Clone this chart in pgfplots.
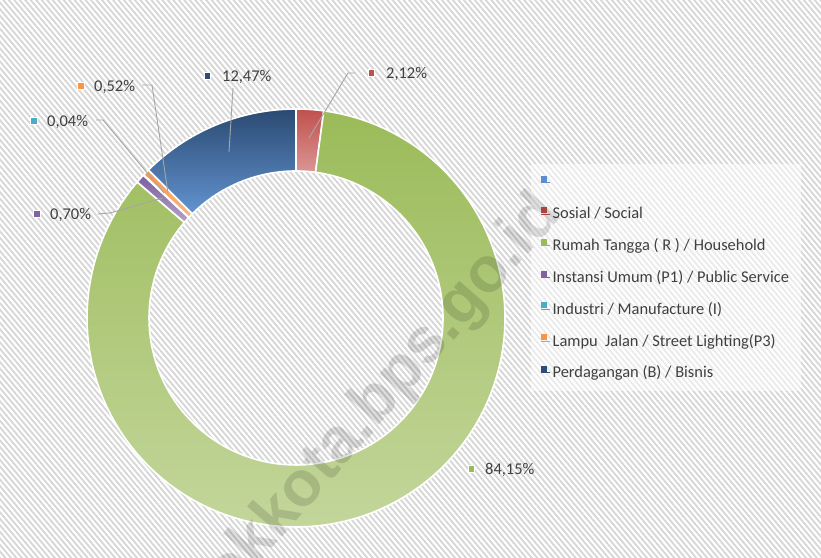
\documentclass[border=0pt]{standalone}
\usepackage{fontspec}
\setmainfont{Carlito}
\newfontfamily\wmfont{Liberation Sans}
\usepackage{pgfplots}
\pgfplotsset{compat=1.18}
\usetikzlibrary{patterns.meta}

\definecolor{txt}{HTML}{404040}
\definecolor{lead}{HTML}{A6A6A6}
\definecolor{redT}{HTML}{C0504D}
\definecolor{redB}{HTML}{DA9694}
\definecolor{grnT}{HTML}{9BBB59}
\definecolor{grnB}{HTML}{C3D69B}
\definecolor{bluT}{HTML}{2A4A72}
\definecolor{bluB}{HTML}{6393D0}
\definecolor{purT}{HTML}{7A5F9E}
\definecolor{purB}{HTML}{B3A2C7}
\definecolor{orgT}{HTML}{F79646}
\definecolor{orgB}{HTML}{FAB784}
\definecolor{cyaT}{HTML}{4BACC6}
\definecolor{cyaB}{HTML}{92CDDC}
\definecolor{lblue}{HTML}{5B8DD0}
\definecolor{dblue}{HTML}{2C4D75}
\definecolor{red}{HTML}{C0504D}
\definecolor{grn}{HTML}{9BBB59}
\definecolor{pur}{HTML}{8064A2}
\definecolor{cya}{HTML}{4BACC6}
\definecolor{org}{HTML}{F79646}

% ring segment: cumulative start (%), value (%), top colour, bottom colour
\newcommand{\ringseg}[4]{%
  \addplot[forget plot, draw=white, line width=1.6bp, line join=round,
    top color=#3, bottom color=#4, domain=0:4, samples=481, variable=\qq]
  ({296+ringr(\qq)*cos(ringa(\qq,#1,#2))},{240+ringr(\qq)*sin(ringa(\qq,#1,#2))});
}
% data label: square x, y, text x, colour, text
\newcommand{\dlabel}[5]{%
  \node[fill=#4, draw=white, line width=0.8bp, minimum size=6.5bp, inner sep=0] at (axis cs:#1,#2) {};
  \node[anchor=base west, inner sep=0, text=txt] at (axis cs:#3,#2-5.3) {#5};
}

\begin{document}
\begin{tikzpicture}[x=1bp,y=1bp]
\useasboundingbox (0,0) rectangle (821,558);
\fill[white] (0,0) rectangle (821,558);
\fill[pattern={Lines[angle=-50,distance=4.2bp,line width=1.8bp]}, pattern color=black!16] (0,0) rectangle (821,558);
\begin{axis}[
  at={(0,0)}, anchor=south west,
  width=821bp, height=558bp, scale only axis,
  xmin=0, xmax=821, ymin=0, ymax=558,
  hide axis, clip=false,
  font=\fontsize{16.5}{19}\selectfont,
  declare function={
    ringr(\qq)= \qq<=1 ? 209 : (\qq<=2 ? 209-62*(\qq-1) : (\qq<=3 ? 147 : 147+62*(\qq-3)));
    ringa(\qq,\pp,\vv)= 90-3.6*(\pp+\vv*(\qq<=1 ? \qq : (\qq<=2 ? 1 : (\qq<=3 ? 3-\qq : 0))));
  },
  legend image code/.code={\path (0bp,0bp) -- (9bp,0bp); \fill[#1, fill opacity=1, draw=none] (0bp,0.5bp) rectangle (6bp,6.5bp);},
  legend cell align=left,
  legend style={at={(axis cs:531,394)}, anchor=north west, draw=none,
    fill=white, fill opacity=0.5, text opacity=1, text=txt,
    inner xsep=10bp, inner ysep=10bp, row sep=14.3bp,
    font=\fontsize{16.5}{19}\selectfont},
]
% Sosial, Rumah Tangga, Instansi Umum, Industri, Lampu Jalan, Perdagangan
\ringseg{0}{2.12}{redT}{redB}
\ringseg{2.12}{84.15}{grnT}{grnB}
\ringseg{86.27}{0.70}{purT}{purB}
\ringseg{86.97}{0.04}{cyaT}{cyaB}
\ringseg{87.01}{0.52}{orgT}{orgB}
\ringseg{87.53}{12.47}{bluT}{bluB}

\addlegendimage{lblue}\addlegendentry{\vphantom{/}}
\addlegendimage{red}\addlegendentry{Sosial / Social}
\addlegendimage{grn}\addlegendentry{Rumah Tangga ( R ) / Household}
\addlegendimage{pur}\addlegendentry{Instansi Umum (P1) / Public Service}
\addlegendimage{cya}\addlegendentry{Industri / Manufacture (I)}
\addlegendimage{org}\addlegendentry{Lampu~ Jalan / Street Lighting(P3)}
\addlegendimage{dblue}\addlegendentry{Perdagangan (B) / Bisnis}

% leader lines
\draw[lead, line width=0.9bp] (axis cs:355,485) -- (axis cs:348,485) -- (axis cs:309,420);
\draw[lead, line width=0.9bp] (axis cs:233,470) -- (axis cs:229,406);
\draw[lead, line width=0.9bp] (axis cs:142,473) -- (axis cs:152,473) -- (axis cs:168,365);
\draw[lead, line width=0.9bp] (axis cs:96,438) -- (axis cs:103,438) -- (axis cs:164,365);
\draw[lead, line width=0.9bp] (axis cs:98,344) -- (axis cs:110,345) -- (axis cs:163,360);

\dlabel{207.5}{482}{222}{dblue}{12,47\%}
\dlabel{371.5}{485}{386}{red}{2,12\%}
\dlabel{81}{472}{94}{org}{0,52\%}
\dlabel{34}{437}{47}{cya}{0,04\%}
\dlabel{37}{344}{50}{pur}{0,70\%}
\dlabel{471.5}{89}{485}{grn}{84,15\%}
\end{axis}
\node[rotate=49, text=black, opacity=0.13, inner sep=0,
  font=\wmfont\bfseries\fontsize{64}{64}\selectfont] at (354,128) {solokkota.bps.go.id};
\end{tikzpicture}
\end{document}
